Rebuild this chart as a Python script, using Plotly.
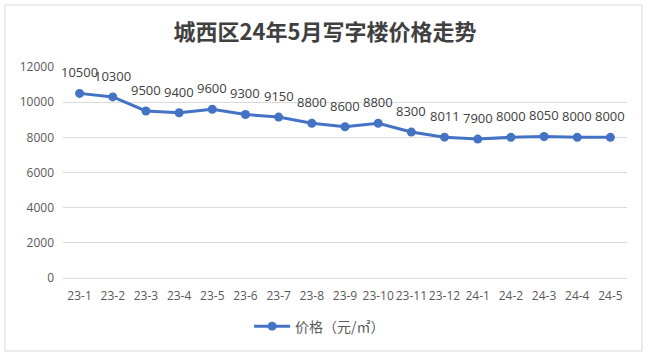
import plotly.graph_objects as go

categories = ["23-1", "23-2", "23-3", "23-4", "23-5", "23-6", "23-7", "23-8", "23-9",
              "23-10", "23-11", "23-12", "24-1", "24-2", "24-3", "24-4", "24-5"]
prices = [10500, 10300, 9500, 9400, 9600, 9300, 9150, 8800, 8600, 8800,
          8300, 8011, 7900, 8000, 8050, 8000, 8000]
y_ticks = [0, 2000, 4000, 6000, 8000, 10000, 12000]
series_name = "价格（元/㎡）"
title_text = "城西区24年5月写字楼价格走势"

W, H = 650, 362
L, R, T, B = 63, 23, 67, 84

fig = go.Figure()
fig.add_trace(go.Scatter(
    x=categories, y=prices, mode="lines+markers", name=series_name,
    line=dict(color="#4472C4", width=3),
    marker=dict(color="#4472C4", size=9),
    cliponaxis=False,
))
for c, v in zip(categories, prices):
    fig.add_annotation(x=c, y=v, text=str(v), showarrow=False, yshift=21,
                       font=dict(family="Open Sans", size=13, color="#404040"))

fig.update_layout(
    width=W, height=H,
    margin=dict(l=L, r=R, t=T, b=B),
    paper_bgcolor="white", plot_bgcolor="white",
    font=dict(family="Noto Sans CJK SC", color="#595959"),
    title=dict(text="<b>" + title_text + "</b>", x=0.5, xanchor="center", y=0.91, yanchor="middle",
               font=dict(family="Noto Sans CJK SC", size=22, color="#404040")),
    showlegend=True,
    legend=dict(orientation="h", x=0.455, xanchor="center", y=-0.23, yanchor="middle",
                itemwidth=36,
                font=dict(family="Noto Sans CJK SC", size=14, color="#595959")),
    xaxis=dict(type="category", showgrid=False, showline=False, ticks="", tickangle=0,
               tickfont=dict(family="Open Sans", size=12, color="#595959"),
               ticklabelstandoff=9,
               range=[-0.5, len(categories) - 0.5]),
    yaxis=dict(range=[0, 12000], tickvals=y_ticks, ticktext=[str(t) for t in y_ticks],
               showgrid=True, gridcolor="#D9D9D9",
               gridwidth=1, zeroline=True, zerolinecolor="#D9D9D9", zerolinewidth=1,
               tickfont=dict(family="Open Sans", size=12, color="#595959"), ticks="",
               ticklabelstandoff=8),
    shapes=[dict(type="rect", xref="paper", yref="paper",
                 x0=(5 - L) / (W - L - R), x1=(642 - L) / (W - L - R),
                 y0=(H - B - 351) / (H - T - B), y1=(H - B - 5) / (H - T - B),
                 line=dict(color="#D9D9D9", width=1), layer="below")],
)

fig.write_html("out.html")
